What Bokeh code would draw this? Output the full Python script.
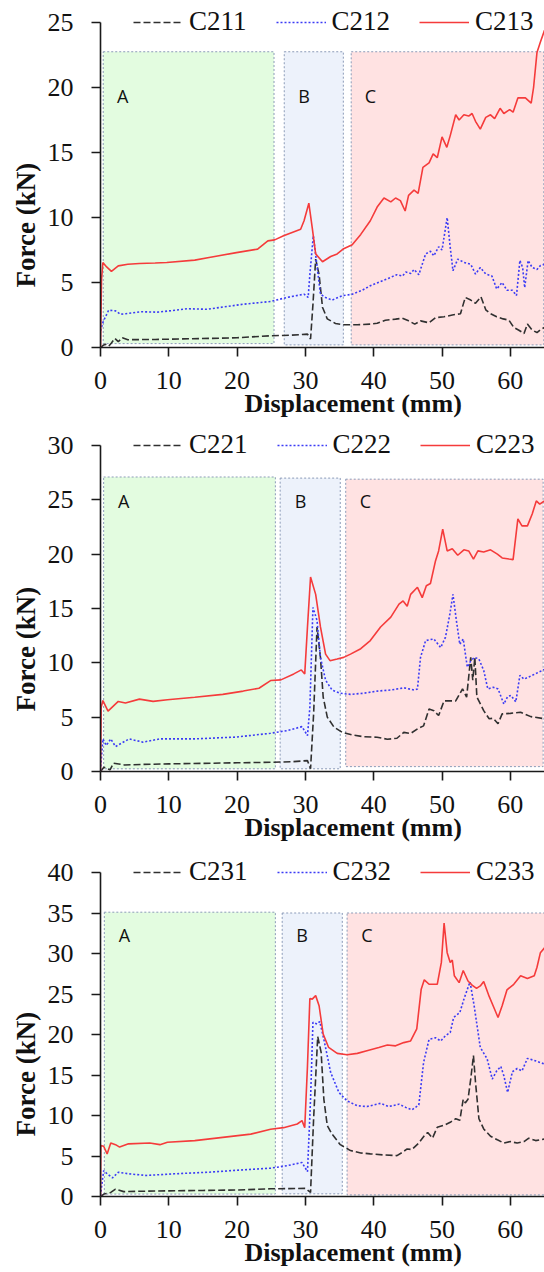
from bokeh.plotting import figure
from bokeh.layouts import column
from bokeh.models import Legend, LegendItem, Label, FixedTicker, Range1d, Title
from bokeh.embed import file_html
from bokeh.resources import INLINE

# ---------------- data ----------------
X_TICKS = [0, 10, 20, 30, 40, 50, 60]
SERIES_NAMES = [["C211", "C212", "C213"], ["C221", "C222", "C223"], ["C231", "C232", "C233"]]
Y_MAX = [25, 30, 40]
REGION_NAMES = ["A", "B", "C"]

# Panel 1
P1_C211_X = [0, 0.35, 0.7, 1.2, 1.6, 2.1, 2.6, 3.2, 4.0, 8.0, 12.0, 16.0, 20.0, 24.9, 28.0, 30.3, 30.75, 31.1, 31.5, 32.0, 32.5, 33.2, 34.4, 35.6, 37.6, 39.5, 40.5, 41.7, 43.2, 44.2, 45.1, 46.0, 46.85, 48.1, 49.05, 50.3, 51.5, 52.7, 53.4, 54.2, 54.9, 55.7, 56.4, 57.1, 58.0, 58.95, 59.8, 60.5, 61.25, 62.0, 62.5, 63.2, 63.9, 64.5, 65.0]
P1_C211_Y = [0, 0.15, 0.25, 0.1, 0.35, 0.7, 0.45, 0.75, 0.6, 0.62, 0.66, 0.7, 0.75, 0.9, 0.95, 1.03, 0.65, 3.3, 6.8, 5.6, 3.1, 2.2, 1.85, 1.75, 1.75, 1.8, 1.87, 2.1, 2.18, 2.25, 2.05, 1.8, 2.05, 1.9, 2.3, 2.36, 2.5, 2.6, 3.85, 3.65, 3.4, 3.9, 2.9, 2.6, 2.36, 2.2, 2.1, 1.54, 1.33, 1.08, 1.8, 1.33, 1.15, 1.4, 1.54]
P1_C212_X = [0, 0.4, 1.2, 2.2, 2.9, 3.7, 5.9, 8.3, 9.8, 12.7, 15.6, 20.9, 24.9, 27.3, 29.8, 30.4, 30.65, 31.15, 31.6, 32.2, 32.95, 33.9, 35.4, 36.85, 38.3, 39.5, 41.0, 42.5, 43.4, 44.2, 44.7, 45.4, 45.9, 46.6, 47.6, 48.3, 48.8, 49.5, 50.0, 50.75, 51.2, 51.6, 52.3, 53.2, 54.2, 54.9, 55.6, 56.4, 57.3, 58.0, 58.8, 59.5, 60.3, 60.9, 61.4, 61.8, 62.1, 62.6, 63.2, 63.9, 64.4, 65.0]
P1_C212_Y = [1.28, 2.0, 2.87, 2.82, 2.56, 2.6, 2.75, 2.72, 2.8, 2.98, 2.94, 3.33, 3.54, 3.85, 4.1, 3.85, 5.6, 8.6, 6.7, 4.1, 3.85, 3.65, 3.98, 4.1, 4.4, 4.75, 5.08, 5.4, 5.6, 5.5, 5.8, 5.7, 6.0, 5.6, 7.2, 7.4, 7.05, 7.75, 7.5, 10.0, 7.7, 5.9, 6.8, 6.55, 6.4, 5.65, 6.15, 5.65, 5.5, 4.5, 5.0, 4.4, 4.4, 4.0, 6.7, 6.15, 4.6, 6.7, 6.15, 6.0, 6.3, 6.4]
P1_C213_X = [0, 0.15, 0.35, 0.9, 1.6, 2.6, 4.0, 5.7, 8.0, 9.7, 13.8, 15.9, 19.9, 23.0, 24.5, 25.5, 26.8, 29.3, 29.8, 30.5, 31.0, 31.5, 32.5, 33.7, 34.65, 35.6, 36.85, 38.1, 39.5, 40.5, 41.5, 42.5, 43.2, 43.9, 44.6, 45.1, 45.9, 46.5, 47.2, 48.1, 48.7, 49.3, 50.0, 50.7, 51.2, 52.0, 52.5, 53.2, 53.9, 54.4, 54.9, 55.6, 56.4, 57.1, 57.7, 58.5, 59.05, 59.9, 60.4, 61.1, 62.2, 63.05, 63.4, 63.9, 64.4, 65.0]
P1_C213_Y = [0, 5.2, 6.54, 6.2, 5.85, 6.28, 6.4, 6.46, 6.5, 6.54, 6.72, 6.92, 7.3, 7.57, 8.2, 8.28, 8.6, 9.1, 9.75, 11.1, 9.2, 7.2, 6.6, 7.0, 7.2, 7.6, 7.9, 8.7, 9.75, 10.8, 11.5, 11.2, 11.5, 11.3, 10.5, 11.7, 12.1, 11.85, 13.85, 14.2, 14.9, 14.6, 16.2, 15.4, 16.3, 17.9, 17.5, 17.9, 17.8, 18.0, 17.4, 16.8, 17.7, 17.9, 17.6, 18.4, 18.0, 18.3, 18.1, 19.2, 19.2, 18.8, 20.0, 22.7, 23.5, 24.4]

# Panel 2
P2_C221_X = [0, 0.5, 1.4, 1.9, 3.5, 6.0, 10.0, 15.0, 20.0, 24.9, 28.0, 30.3, 30.75, 31.2, 31.7, 32.2, 32.6, 33.2, 34.2, 35.4, 36.85, 38.55, 40.5, 42.0, 43.4, 44.4, 45.4, 46.6, 47.3, 48.1, 48.8, 49.5, 50.3, 51.2, 52.0, 53.0, 53.6, 54.2, 54.5, 54.8, 55.1, 56.1, 56.9, 57.5, 58.2, 58.8, 60.0, 61.5, 63.0, 65.0]
P2_C221_Y = [0, 0.4, 0.15, 0.77, 0.6, 0.65, 0.7, 0.75, 0.8, 0.85, 0.9, 1.0, 0.25, 5.3, 13.3, 10.5, 6.85, 5.0, 4.07, 3.6, 3.36, 3.2, 3.15, 2.97, 3.06, 3.6, 3.5, 4.0, 4.2, 5.75, 5.6, 5.15, 6.5, 6.5, 6.5, 7.6, 6.85, 10.5, 8.4, 10.5, 6.85, 5.6, 4.85, 4.9, 4.4, 5.3, 5.35, 5.45, 5.05, 4.85]
P2_C222_X = [0, 0.35, 0.85, 1.5, 2.2, 4.2, 6.2, 8.7, 13.8, 19.9, 24.9, 27.3, 29.5, 30.3, 30.65, 31.1, 31.7, 32.2, 32.95, 33.9, 35.1, 36.6, 38.5, 40.5, 42.5, 44.4, 45.9, 46.4, 46.85, 47.6, 48.8, 49.8, 50.5, 51.15, 51.6, 52.1, 52.6, 53.1, 53.7, 54.2, 54.8, 55.4, 56.1, 56.7, 57.5, 58.2, 59.05, 59.6, 60.1, 60.8, 61.4, 62.0, 62.7, 63.7, 65.0]
P2_C222_Y = [0.1, 3.0, 2.4, 3.0, 2.3, 3.0, 2.7, 3.0, 3.0, 3.17, 3.52, 3.76, 4.13, 3.3, 5.9, 15.1, 13.9, 10.5, 8.4, 7.5, 7.2, 7.1, 7.2, 7.4, 7.5, 7.7, 7.5, 7.6, 10.5, 12.05, 12.2, 11.4, 12.35, 14.5, 16.3, 13.9, 11.7, 12.2, 9.6, 10.2, 10.5, 10.35, 9.3, 7.6, 7.75, 7.6, 6.2, 6.9, 7.0, 6.4, 8.85, 8.5, 8.7, 9.0, 9.4]
P2_C223_X = [0, 0.1, 0.35, 1.1, 2.6, 3.65, 5.7, 7.7, 9.8, 13.8, 17.9, 20.9, 23.2, 24.9, 26.4, 28.3, 29.4, 29.9, 30.3, 30.75, 31.5, 32.2, 32.95, 33.6, 34.65, 35.6, 36.6, 38.1, 39.5, 41.0, 42.5, 43.7, 44.3, 44.9, 45.4, 46.4, 47.1, 47.7, 48.3, 49.05, 49.5, 50.1, 50.75, 51.5, 52.3, 53.2, 53.9, 54.6, 55.25, 56.1, 57.1, 58.1, 58.8, 59.8, 60.4, 61.1, 61.7, 62.5, 63.2, 63.8, 64.3, 65.0]
P2_C223_Y = [0, 5.9, 6.53, 5.55, 6.45, 6.3, 6.66, 6.45, 6.6, 6.83, 7.1, 7.4, 7.66, 8.37, 8.43, 8.98, 9.35, 8.98, 13.3, 17.9, 16.3, 13.3, 10.8, 10.2, 10.35, 10.5, 10.8, 11.3, 12.05, 13.3, 14.2, 15.4, 15.7, 15.2, 16.3, 16.95, 16.0, 17.1, 17.3, 19.4, 20.3, 22.3, 20.3, 20.5, 19.9, 20.4, 20.3, 19.55, 20.3, 20.2, 20.4, 20.0, 19.65, 19.55, 19.5, 23.25, 22.6, 22.6, 23.7, 24.9, 24.6, 24.9]

# Panel 3
P3_C231_X = [0, 0.5, 1.5, 2.2, 3.4, 6.0, 10.0, 15.0, 20.0, 24.9, 30.0, 30.75, 31.2, 31.8, 32.3, 32.7, 33.2, 33.9, 35.1, 36.6, 38.1, 39.5, 41.5, 43.4, 44.2, 44.9, 45.6, 46.6, 47.4, 47.9, 48.6, 49.3, 50.3, 51.2, 52.0, 52.6, 53.1, 53.4, 53.8, 54.2, 54.6, 54.9, 55.4, 56.1, 57.1, 58.1, 59.05, 60.0, 61.0, 62.0, 62.7, 63.7, 65.0]
P3_C231_Y = [0, 0.3, 0.5, 0.9, 0.6, 0.65, 0.7, 0.75, 0.8, 0.95, 1.0, 0.5, 9.6, 19.75, 17.8, 12.0, 8.75, 7.7, 6.4, 5.67, 5.38, 5.26, 5.13, 5.05, 5.46, 5.87, 5.8, 6.6, 7.5, 7.9, 7.2, 8.55, 8.8, 9.16, 9.6, 9.4, 12.0, 11.55, 12.0, 14.5, 17.4, 14.1, 9.6, 8.34, 7.44, 7.0, 6.6, 6.78, 6.6, 6.78, 7.2, 6.9, 7.1]
P3_C232_X = [0, 0.46, 0.97, 1.75, 2.6, 4.1, 6.7, 10.8, 15.9, 21.0, 24.9, 27.3, 29.5, 30.3, 30.75, 31.1, 31.7, 32.1, 32.7, 33.7, 34.9, 36.1, 37.6, 39.0, 41.0, 42.2, 43.7, 44.7, 45.6, 46.6, 47.3, 48.1, 49.05, 49.8, 50.5, 51.2, 51.7, 52.6, 53.2, 53.8, 54.1, 54.7, 55.6, 56.6, 57.35, 58.0, 58.6, 59.05, 59.6, 60.3, 61.0, 61.7, 62.5, 63.5, 65.0]
P3_C232_Y = [0.1, 3.2, 2.8, 2.3, 3.0, 2.8, 2.6, 2.8, 3.0, 3.3, 3.5, 3.8, 4.2, 3.07, 12.0, 21.5, 21.3, 21.6, 19.4, 15.3, 12.85, 11.8, 11.2, 11.1, 11.5, 11.1, 11.4, 11.0, 10.7, 11.3, 16.56, 19.4, 19.6, 19.2, 19.85, 20.25, 22.1, 22.7, 24.35, 25.8, 26.5, 23.55, 18.4, 17.0, 14.5, 15.5, 16.07, 14.9, 12.85, 15.4, 15.8, 15.5, 17.05, 16.8, 16.35]
P3_C233_X = [0, 0.05, 0.46, 0.97, 1.5, 2.2, 2.8, 4.1, 7.2, 8.7, 9.8, 13.8, 17.9, 22.0, 24.9, 26.8, 28.8, 29.5, 29.9, 30.3, 30.65, 31.0, 31.5, 32.0, 32.6, 33.4, 34.65, 36.1, 37.6, 39.0, 40.75, 42.0, 43.2, 44.4, 45.4, 46.3, 46.95, 47.4, 48.1, 49.3, 49.9, 50.3, 50.75, 51.2, 51.5, 51.8, 52.5, 53.1, 53.8, 54.4, 55.05, 55.6, 56.1, 56.9, 57.6, 58.2, 58.8, 59.5, 60.5, 61.5, 62.5, 63.5, 63.9, 64.4, 65.0]
P3_C233_Y = [0, 6.3, 6.2, 5.26, 6.6, 6.4, 6.1, 6.5, 6.6, 6.4, 6.7, 6.9, 7.3, 7.7, 8.3, 8.5, 8.95, 9.37, 8.5, 16.1, 24.45, 24.37, 24.8, 23.55, 20.05, 18.4, 17.67, 17.5, 17.67, 18.0, 18.4, 18.7, 18.6, 19.0, 19.2, 20.7, 25.6, 26.75, 26.2, 26.2, 28.9, 33.75, 30.1, 28.9, 29.2, 27.25, 26.4, 27.9, 26.6, 26.1, 25.7, 26.0, 26.55, 24.7, 23.3, 22.1, 23.55, 25.5, 26.2, 27.25, 26.9, 27.25, 28.3, 30.1, 30.7]

# Shaded regions A, B, C (displacement / force extents)
P1_REG_LEFT = [0.4, 26.9, 36.7]
P1_REG_RIGHT = [25.4, 35.55, 64.9]
P1_REG_BOTTOM = [0.3, 0.2, 0.2]
P1_REG_TOP = [22.75, 22.75, 22.75]
P2_REG_LEFT = [0.46, 26.3, 35.9]
P2_REG_RIGHT = [25.6, 35.1, 64.8]
P2_REG_BOTTOM = [0.25, 0.25, 0.45]
P2_REG_TOP = [27.1, 27.0, 26.9]
P3_REG_LEFT = [0.56, 26.6, 36.1]
P3_REG_RIGHT = [25.6, 35.4, 65.3]
P3_REG_BOTTOM = [0.3, 0.33, 0.2]
P3_REG_TOP = [35.1, 35.0, 35.0]

# ---------------- styling ----------------
SERIF = "Liberation Serif"
REG_FILL = ["#E3FCE0", "#EDF2FB", "#FFE2E2"]
REG_LINE = "#8C9BB8"
LINE_STYLES = [
    dict(line_color="#303030", line_dash="7 3", line_width=1.6),
    dict(line_color="#3B3BF5", line_dash="2 2", line_width=1.6),
    dict(line_color="#F53B3B", line_width=1.6),
]

PANELS = [
    dict(height=423, top=22, data_h=325, bottom=76, ymax=Y_MAX[0], names=SERIES_NAMES[0],
         series=[(P1_C211_X, P1_C211_Y), (P1_C212_X, P1_C212_Y), (P1_C213_X, P1_C213_Y)],
         reg=(P1_REG_LEFT, P1_REG_RIGHT, P1_REG_BOTTOM, P1_REG_TOP),
         lab_x=[3.25, 29.8, 39.5], lab_px=73),
    dict(height=424, top=22, data_h=326, bottom=76, ymax=Y_MAX[1], names=SERIES_NAMES[1],
         series=[(P2_C221_X, P2_C221_Y), (P2_C222_X, P2_C222_Y), (P2_C223_X, P2_C223_Y)],
         reg=(P2_REG_LEFT, P2_REG_RIGHT, P2_REG_BOTTOM, P2_REG_TOP),
         lab_x=[3.4, 29.3, 38.8], lab_px=55),
    dict(height=425, top=25, data_h=324, bottom=76, ymax=Y_MAX[2], names=SERIES_NAMES[2],
         series=[(P3_C231_X, P3_C231_Y), (P3_C232_X, P3_C232_Y), (P3_C233_X, P3_C233_Y)],
         reg=(P3_REG_LEFT, P3_REG_RIGHT, P3_REG_BOTTOM, P3_REG_TOP),
         lab_x=[3.5, 29.5, 39.0], lab_px=62),
]

W = 544
LEFT = 100
XMAX = 65


def make_panel(cfg):
    H = cfg["height"]
    ymax = cfg["ymax"]
    px_per_kn = cfg["data_h"] / ymax
    y_end = ymax + cfg["top"] / px_per_kn
    frame_h = H - cfg["bottom"]

    p = figure(width=W, height=H, output_backend="svg", toolbar_location=None, title=None,
               x_range=Range1d(0, XMAX), y_range=Range1d(0, y_end),
               min_border_left=LEFT, min_border_right=0,
               min_border_top=0, min_border_bottom=cfg["bottom"])
    p.outline_line_color = None
    p.grid.visible = False
    p.background_fill_color = "white"

    # regions
    l, r, b, t = cfg["reg"]
    p.quad(left=l, right=r, bottom=b, top=t, fill_color=REG_FILL,
           line_color=REG_LINE, line_dash="2 2", line_width=1)

    # curves
    rends = []
    for (xs, ys), st in zip(cfg["series"], LINE_STYLES):
        n = min(len(xs), len(ys))
        rends.append(p.line(x=list(xs[:n]), y=list(ys[:n]), **st))

    # region letters
    ylab = ymax - cfg["lab_px"] / px_per_kn
    for name, lx in zip(REGION_NAMES, cfg["lab_x"]):
        p.add_layout(Label(x=lx, y=ylab, text=name, text_font="Open Sans",
                           text_font_size="18px", text_align="center",
                           text_baseline="middle", text_color="#111111"))

    # axes
    p.xaxis.ticker = FixedTicker(ticks=X_TICKS)
    p.yaxis.ticker = FixedTicker(ticks=list(range(0, ymax + 1, 5)))
    p.yaxis.bounds = (0, ymax)
    for ax in (p.xaxis, p.yaxis):
        ax.axis_line_width = 1.6
        ax.axis_line_color = "#1a1a1a"
        ax.major_tick_line_width = 1.6
        ax.major_tick_line_color = "#1a1a1a"
        ax.major_tick_out = 9
        ax.major_tick_in = 0
        ax.minor_tick_line_color = None
        ax.major_label_text_font = SERIF
        ax.major_label_text_font_size = "26px"
        ax.major_label_text_color = "#111111"
    p.xaxis.major_label_standoff = 15
    p.yaxis.major_label_standoff = 18

    # axis titles (side-panel titles so they can be offset like the original)
    p.add_layout(Title(text="Displacement (mm)", text_font=SERIF, text_font_style="bold",
                       text_font_size="26px", text_color="#111111", align="left",
                       offset=144, standoff=-10), "below")
    p.add_layout(Title(text="Force (kN)", text_font=SERIF, text_font_style="bold",
                       text_font_size="27px", text_color="#111111", align="left",
                       offset=60, standoff=8), "left")

    # legend (centred on the top end of the force axis)
    items = [LegendItem(label=nm, renderers=[rd]) for nm, rd in zip(cfg["names"], rends)]
    leg = Legend(items=items, orientation="horizontal",
                 location=(33, frame_h - cfg["top"] - 15),
                 glyph_width=50, glyph_height=20, label_standoff=6, spacing=29,
                 padding=0, margin=0, border_line_color=None, background_fill_alpha=0,
                 label_text_font=SERIF, label_text_font_size="27px",
                 label_text_color="#111111", label_height=30)
    p.add_layout(leg)
    return p


figs = [make_panel(c) for c in PANELS]
layout = column(*figs, spacing=0)
open("out.html", "w").write(file_html(layout, INLINE))
